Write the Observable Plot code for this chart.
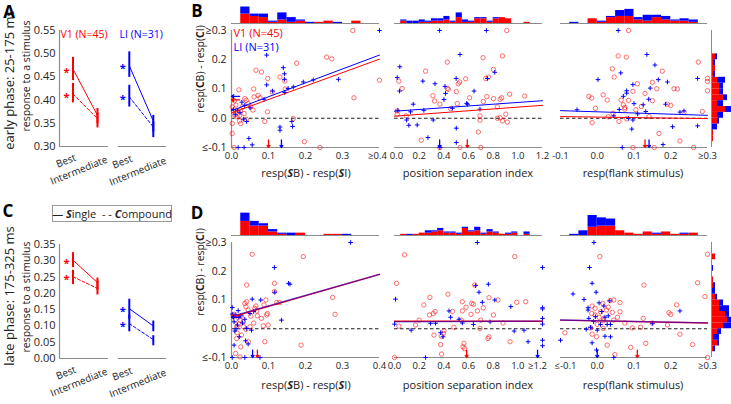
<!DOCTYPE html>
<html><head><meta charset="utf-8">
<script src="https://cdn.jsdelivr.net/npm/d3@7"></script>
<script src="https://cdn.jsdelivr.net/npm/@observablehq/plot@0.6"></script>
<style>
body{margin:0;background:#fff;}
#fig{position:relative;width:731px;height:404px;overflow:hidden;font-family:"Open Sans",sans-serif;background:#fff;color:#222}
.lab{position:absolute;white-space:nowrap;transform-origin:center;line-height:1}
#fig svg{position:absolute;overflow:visible}
</style></head><body><div id="fig"></div>
<script>
// ---------------- DATA ----------------
const conditions = ["Best", "Intermediate"];
const areas = ["V1", "LI"];
const areaN = [45, 31];

// Panel A, early phase (25-175 ms): [Best, Intermediate]
const earlyV1Single = [0.467, 0.367], earlyV1SingleLo = [0.442, 0.349], earlyV1SingleHi = [0.492, 0.382];
const earlyV1Comp   = [0.413, 0.360], earlyV1CompLo   = [0.394, 0.340], earlyV1CompHi   = [0.436, 0.372];
const earlyLISingle = [0.474, 0.355], earlyLISingleLo = [0.449, 0.331], earlyLISingleHi = [0.504, 0.367];
const earlyLIComp   = [0.407, 0.342], earlyLICompLo   = [0.385, 0.319], earlyLICompHi   = [0.432, 0.353];
// Panel C, late phase (175-325 ms)
const lateV1Single = [0.302, 0.233], lateV1SingleLo = [0.279, 0.209], lateV1SingleHi = [0.325, 0.247];
const lateV1Comp   = [0.251, 0.215], lateV1CompLo   = [0.227, 0.195], lateV1CompHi   = [0.271, 0.238];
const lateLISingle = [0.153, 0.100], lateLISingleLo = [0.121, 0.082], lateLISingleHi = [0.182, 0.115];
const lateLIComp   = [0.107, 0.058], lateLICompLo   = [0.082, 0.039], lateLICompHi   = [0.133, 0.070];

const yTicksA = [0.30, 0.35, 0.40, 0.45, 0.50, 0.55];
const yTicksC = [0.00, 0.05, 0.10, 0.15, 0.20, 0.25, 0.30, 0.35];
const yTicksScatter = [-0.1, 0, 0.1, 0.2, 0.3];

// Panel B scatter points [x, y]; y = resp(CB) - resp(CI)
const b1V1 = [[0.328,0.3],[0.4,0.13],[0.331,0.07],[0.257,0.209],[0.271,0.203],[0.176,0.188],[0.066,0.164],[0.081,0.158],[0.131,0.141],[0.144,0.127],[0.098,0.136],[0.02,0.097],[0.036,0.067],[0.04,0.061],[0.061,0.073],[0.072,0.078],[0.077,0.07],[0.002,0.039],[0.005,0.025],[0.014,0.025],[0.025,0.028],[0.009,0.01],[0.022,0.01],[0.034,0.016],[0.052,0.039],[0.097,0.022],[0.09,-0.011],[0.167,-0.001],[0.002,-0.018],[0.022,-0.009],[0.025,-0.018],[0.002,-0.052],[0.197,-0.08],[0.239,-0.1],[0.007,-0.1],[0.012,0.045],[0.03,0.04],[0.045,0.05],[0.058,0.028],[0.015,0.005],[0.04,-0.004],[0.11,0.09],[0.145,0.1],[0.008,0.06],[0.06,0.1]];
const b1LI = [[0.4,0.3],[0.095,0.216],[0.14,0.173],[0.143,0.152],[0.095,0.114],[0.111,0.093],[0.143,0.133],[0.153,0.102],[0.194,0.124],[0.221,0.131],[0.289,0.133],[0.144,0.088],[0.167,0.107],[0.088,0.065],[0.036,0.044],[0.05,0.036],[0.016,0.027],[0.023,0.019],[0.032,-0.003],[0.041,-0.011],[0.131,-0.03],[0.131,-0.041],[0.163,-0.011],[0.165,-0.028],[0.047,-0.069],[0.056,-0.091],[0.018,-0.1],[0.034,-0.1],[0.005,0.03],[0.01,0.012],[0.028,0.055]];
const b2V1 = [[0.91,0.3],[0.875,0.213],[0.428,0.192],[0.718,0.207],[0.252,0.161],[0.035,0.127],[0.062,0.102],[0.802,0.167],[0.761,0.141],[0.739,0.136],[0.577,0.135],[0.528,0.124],[0.517,0.118],[0.428,0.102],[0.436,0.099],[0.501,0.091],[0.311,0.077],[0.325,0.059],[0.368,0.048],[0.509,0.05],[0.609,0.07],[0.748,0.074],[0.72,0.057],[0.802,0.067],[0.856,0.065],[0.869,0.07],[0.934,0.082],[1.056,0.076],[0.834,0.039],[0.455,0.033],[0.902,0.014],[0.834,0.0],[0.856,0.002],[0.875,-0.009],[0.915,-0.013],[0.693,0.008],[0.693,-0.007],[0.022,0.025],[0.022,0.014],[0.095,0.008],[0.217,-0.075],[0.68,-0.047],[0.368,-0.1],[0.7,-0.1],[0.531,-0.1]];
const b2LI = [[0.366,0.3],[0.745,0.3],[0.531,0.218],[0.043,0.176],[0.022,0.139],[0.041,0.093],[0.23,0.127],[0.328,0.118],[0.409,0.109],[0.5,0.136],[0.753,0.136],[0.813,0.157],[0.645,0.093],[0.414,0.085],[0.401,0.064],[0.585,0.051],[0.593,0.048],[0.469,0.034],[0.152,0.048],[0.13,0.022],[0.027,0.027],[0.238,0.027],[0.693,0.031],[0.098,-0.006],[0.116,-0.024],[0.184,-0.023],[0.314,-0.006],[0.501,-0.034],[0.271,-0.066],[0.501,-0.083],[0.368,-0.1]];
const b3V1 = [[0.085,0.3],[0.057,0.213],[0.079,0.209],[0.275,0.192],[0.041,0.169],[0.177,0.161],[0.046,0.141],[0.109,0.118],[0.15,0.123],[0.097,0.092],[0.162,0.101],[0.209,0.101],[0.218,0.1],[0.3,0.136],[0.3,0.126],[0.3,0.094],[0.016,0.08],[-0.023,0.075],[-0.015,0.069],[0.027,0.062],[0.065,0.062],[0.085,0.061],[0.15,0.06],[0.071,0.046],[0.075,0.037],[0.075,0.031],[-0.005,0.034],[0.105,0.029],[0.191,0.048],[0.2,0.044],[0.043,0.017],[0.286,0.023],[0.059,-0.011],[0.08,-0.002],[-0.014,-0.015],[0.141,0.006],[0.168,-0.052],[0.225,-0.078],[0.097,-0.1],[0.155,-0.1],[0.262,-0.1],[0.13,0.085],[0.12,0.04],[0.236,0.02],[0.03,0.005]];
const b3LI = [[0.057,0.3],[0.135,0.218],[0.064,0.155],[0.002,0.132],[0.157,0.182],[0.166,0.132],[0.191,0.124],[0.273,0.136],[0.097,0.115],[0.144,0.103],[0.08,0.094],[0.08,0.086],[0.071,0.075],[0.125,0.046],[0.186,0.048],[0.132,0.023],[-0.055,0.029],[0.236,0.025],[0.225,0.021],[0.097,-0.006],[0.045,0.008],[0.094,-0.037],[0.205,-0.029],[0.273,-0.026],[0.179,-0.09],[0.068,-0.1],[0.1,0.05],[0.06,0.03],[0.11,0.015],[0.14,0.065],[0.085,0.0]];
// Panel D scatter points [x, y]
const d1V1 = [[0.056,0.259],[0.194,0.251],[0.116,0.158],[0.041,0.152],[0.116,0.129],[0.093,0.1],[0.129,0.091],[0.122,0.091],[0.066,0.079],[0.063,0.071],[0.068,0.062],[0.036,0.088],[0.041,0.094],[0.039,0.077],[0.088,0.083],[0.097,0.053],[0.095,0.048],[0.081,0.036],[0.052,0.044],[0.28,0.05],[0.273,0.109],[0.027,0.044],[0.023,0.03],[0.032,0.024],[0.086,0.01],[0.099,0.013],[0.014,0.007],[0.02,0.016],[0.05,0.007],[0.032,0.007],[0.039,-0.002],[0.015,-0.014],[0.027,-0.022],[0.014,-0.034],[0.045,-0.045],[0.09,-0.045],[0.025,-0.063],[0.188,-0.057],[0.011,-0.086],[0.023,-0.098],[0.008,0.05],[0.06,0.02],[0.07,0.045],[0.01,0.03],[0.045,0.065]];
const d1LI = [[0.322,0.3],[0.116,0.213],[0.154,0.158],[0.158,0.155],[0.117,0.127],[0.056,0.103],[0.079,0.1],[0.002,0.074],[0.018,0.063],[0.05,0.053],[0.135,0.03],[0.01,0.048],[0.002,0.051],[0.02,0.04],[0.007,0.024],[0.036,0.033],[0.016,0.013],[0.041,0.001],[0.054,-0.005],[0.009,-0.008],[0.021,-0.028],[0.038,-0.042],[0.007,-0.057],[0.045,-0.053],[0.002,-0.1],[0.036,-0.1],[0.077,-0.1],[0.025,0.045],[0.03,0.02],[0.012,0.0],[0.06,0.06]];
const d2V1 = [[0.081,0.257],[0.975,0.251],[0.016,0.158],[0.433,0.12],[0.287,0.109],[0.238,0.083],[0.284,0.048],[0.314,0.053],[0.55,0.094],[0.626,0.088],[0.64,0.085],[0.55,0.062],[0.542,0.03],[0.672,0.062],[0.72,0.073],[0.65,0.152],[0.766,0.108],[0.839,0.1],[0.802,0.048],[0.699,0.03],[0.991,0.092],[1.064,0.094],[0.693,0.001],[0.482,0.005],[0.035,0.009],[0.17,0.013],[0.401,-0.007],[0.395,-0.016],[0.32,-0.022],[0.38,-0.026],[0.766,-0.028],[0.758,-0.034],[0.374,-0.055],[0.937,-0.045],[0.563,-0.051],[0.555,-0.063],[0.568,-0.069],[0.382,-0.088],[0.0,-0.1],[0.33,0.06],[0.62,0.05],[0.58,0.075],[0.47,0.06],[0.2,0.03],[0.88,0.02]];
const d2LI = [[0.672,0.3],[1.2,0.213],[0.658,0.15],[0.761,0.155],[0.008,0.103],[0.685,0.127],[0.712,0.092],[0.813,0.1],[0.943,0.077],[1.2,0.073],[1.2,0.069],[0.442,0.062],[0.455,0.04],[0.523,0.033],[0.333,0.019],[0.292,0.019],[0.64,0.015],[1.2,0.036],[1.2,0.016],[0.0,0.016],[0.135,-0.005],[0.374,-0.014],[0.393,-0.028],[0.97,-0.008],[1.05,-0.005],[1.083,-0.045],[1.2,-0.04],[1.2,-0.059],[0.775,0.024],[0.252,-0.1],[0.55,0.02]];
const d3V1 = [[0.3,0.259],[0.007,0.251],[0.127,0.152],[0.273,0.16],[0.293,0.112],[0.035,0.098],[0.045,0.1],[0.062,0.091],[0.015,0.088],[-0.014,0.079],[-0.006,0.071],[-0.015,0.053],[-0.006,0.048],[0.009,0.059],[0.041,0.057],[0.062,0.059],[0.018,0.036],[0.016,0.028],[0.045,0.03],[0.125,0.036],[0.195,0.056],[0.2,0.05],[0.216,0.083],[0.095,0.003],[0.118,0.005],[-0.018,0.003],[0.016,0.001],[0.191,0.013],[0.225,-0.019],[-0.088,-0.014],[-0.014,-0.019],[-0.002,-0.028],[0.027,-0.057],[0.091,-0.065],[0.132,-0.051],[0.259,-0.055],[0.048,-0.09],[0.3,-0.1],[0.03,0.075],[0.005,0.04],[0.055,0.04],[0.075,0.02],[0.025,0.065],[0.15,0.02],[0.0,0.015]];
const d3LI = [[-0.009,0.3],[-0.021,0.213],[-0.014,0.158],[-0.003,0.127],[-0.066,0.121],[-0.036,0.102],[-0.025,0.073],[-0.025,0.065],[0.018,0.079],[0.034,0.097],[-0.023,0.036],[-0.005,0.042],[0.021,0.04],[0.009,0.015],[0.027,0.015],[0.036,0.015],[0.15,0.019],[0.225,0.062],[0.0,-0.005],[-0.03,-0.002],[0.021,-0.026],[0.036,-0.028],[-0.014,-0.049],[-0.1,-0.04],[-0.002,-0.074],[0.045,-0.1],[0.005,0.09],[-0.01,0.025],[0.012,0.06],[-0.018,0.005],[0.03,0.045]];

// regression fits [intercept, slope] for [V1, LI]
const fitB1 = [[0.018, 0.46], [0.026, 0.475]];
const fitB2 = [[0.007, 0.031], [0.024, 0.030]];
const fitB3 = [[0.004, -0.0175], [0.022, -0.040]];
const fitD1 = [[0.041, 0.370], [0.043, 0.365]];
const fitD2 = [[0.026, 0.000], [0.024, 0.002]];
const fitD3 = [[0.0275, -0.025], [0.028, -0.025]];
// medians (arrows) [V1, LI]
const medXB1 = [0.100, 0.135], medXB2 = [0.59, 0.366], medXB3 = [0.130, 0.141];
const medXD1 = [0.070, 0.057], medXD2 = [0.585, 1.16], medXD3 = [0.109, 0.000];
const medYB = [0.063, 0.075], medYD = [0.045, 0.040];

// ---------------- DRAWING ----------------
const RED = "#ff0000", BLUE = "#0000ff", AXIS = "#8c8c8c", TXT = "#222";
const FONT = '"Open Sans", sans-serif';
const colorScale = {domain: areas, range: [RED, BLUE]};
const fig = document.getElementById("fig");
function place(svg, left, top) { svg.style.left = left + "px"; svg.style.top = top + "px"; fig.appendChild(svg); }
function label(html, cx, cy, {size = 11, rot = 0, color = TXT, weight = "normal"} = {}) {
  const d = document.createElement("div");
  d.className = "lab"; d.innerHTML = html;
  Object.assign(d.style, {fontSize: size + "px", color, fontWeight: weight, left: cx + "px", top: cy + "px",
    transform: `translate(-50%,-50%) rotate(${rot}deg)`});
  fig.appendChild(d);
}
const baseStyle = {fontFamily: FONT, fontSize: "10px", color: TXT, background: "transparent", overflow: "visible"};

// Panels A & C
function groupPanel(o) {
  const ML = o.showY ? 59 : 4, MR = 2, MT = 10, MB = 44;
  const xDom = o.xDomain;
  const rows = (means, lo, hi, stim) => conditions.map((c, i) => ({i, cond: c, stim, m: means[i], lo: lo[i], hi: hi[i]}));
  const s = rows(o.single, o.singleLo, o.singleHi, "Single");
  const c = rows(o.comp, o.compLo, o.compHi, "Compound");
  const best = [...s, ...c].filter(d => d.cond === "Best");
  const ticks = conditions.map((c, i) => ({i, c}));
  const tickText = (i, dx, dy) => Plot.text(ticks.filter(d => d.i === i), {x: "i", text: "c", frameAnchor: "bottom",
    rotate: -22, textAnchor: "end", lineAnchor: "top", dx, dy, fontSize: 10, fill: TXT});
  const extra = o.showY ? 0 : 1;
  const svg = Plot.plot({
    width: ML + o.frameW + MR, height: MT + o.frameH + MB,
    marginLeft: ML, marginRight: MR, marginTop: MT, marginBottom: MB,
    style: baseStyle,
    x: {domain: xDom, axis: null}, y: {domain: o.yDomain, axis: null},
    marks: [
      Plot.ruleY([o.yDomain[0]], {stroke: AXIS, strokeWidth: 1.2}),
      o.showY ? Plot.ruleX([xDom[0]], {stroke: AXIS, strokeWidth: 1.2}) : null,
      o.showY ? Plot.axisY({ticks: o.yTicks, tickFormat: d3.format(".2f"), tickSize: 0, tickPadding: 4, fontSize: 11, label: null}) : null,
      tickText(0, 1, 7 + extra),
      tickText(1, o.showY ? 8 : 11, 9 + extra),
      Plot.line(s, {x: "i", y: "m", stroke: o.color, strokeWidth: 1}),
      Plot.line(c, {x: "i", y: "m", stroke: o.color, strokeWidth: 1, strokeDasharray: "3,2"}),
      Plot.ruleX([...s, ...c], {x: "i", y1: "lo", y2: "hi", stroke: o.color, strokeWidth: 2}),
      Plot.text(best, {x: "i", y: "m", text: () => "*", dx: -6.5, dy: 3, fill: o.color, fontSize: 11, fontWeight: "bold"}),
      o.name ? Plot.text([o.name], {frameAnchor: "top-left", dx: 1, dy: 0, fill: o.color, fontSize: 10.5}) : null
    ]
  });
  place(svg, o.frameLeft - ML, o.frameTop - MT);
}

const aL = {frameLeft: 59, frameW: 49}, aR = {frameLeft: 118, frameW: 48};
groupPanel({...aL, showY: true, xDomain: [-0.55, 1.45], frameTop: 30, frameH: 116, yDomain: [0.30, 0.55], yTicks: yTicksA, color: RED,
  single: earlyV1Single, singleLo: earlyV1SingleLo, singleHi: earlyV1SingleHi, comp: earlyV1Comp, compLo: earlyV1CompLo, compHi: earlyV1CompHi,
  name: `${areas[0]} (N=${areaN[0]})`});
groupPanel({...aR, showY: false, xDomain: [-0.45, 1.55], frameTop: 30, frameH: 116, yDomain: [0.30, 0.55], yTicks: yTicksA, color: BLUE,
  single: earlyLISingle, singleLo: earlyLISingleLo, singleHi: earlyLISingleHi, comp: earlyLIComp, compLo: earlyLICompLo, compHi: earlyLICompHi,
  name: `${areas[1]} (N=${areaN[1]})`});
groupPanel({...aL, showY: true, xDomain: [-0.55, 1.45], frameTop: 244, frameH: 114, yDomain: [0, 0.35], yTicks: yTicksC, color: RED,
  single: lateV1Single, singleLo: lateV1SingleLo, singleHi: lateV1SingleHi, comp: lateV1Comp, compLo: lateV1CompLo, compHi: lateV1CompHi});
groupPanel({...aR, showY: false, xDomain: [-0.45, 1.55], frameTop: 244, frameH: 114, yDomain: [0, 0.35], yTicks: yTicksC, color: BLUE,
  single: lateLISingle, singleLo: lateLISingleLo, singleHi: lateLISingleHi, comp: lateLIComp, compLo: lateLICompLo, compHi: lateLICompHi});

// Scatter panels
const yDomS = [-0.1, 0.3];
const yFmt = d => d === 0.3 ? "≥0.3" : d === -0.1 ? "≤-0.1" : d.toFixed(1);
function scatter(o) {
  const ML = 34, MR = 4, MT = 4, MB = 26;
  const [x0, x1] = o.xDomain, [y0, y1] = yDomS;
  const v1 = o.v1.map(([x, y]) => ({x, y})), li = o.li.map(([x, y]) => ({x, y}));
  const lines = o.fits.map((f, i) => Plot.line(o.xDomain, {x: d => d, y: d => f[0] + f[1] * d,
    stroke: i === 0 ? RED : BLUE, strokeWidth: o.overlap ? 1.4 : 1, strokeOpacity: (o.overlap && i === 1) ? 0.55 : 1}));
  const medX = areas.map((a, i) => ({area: a, v: o.medX[i]}));
  const aY = 0.065 * (y1 - y0), aX = 0.055 * (x1 - x0);
  const shift = o.tickShift || {};
  const axisOpts = {tickFormat: o.xFmt, tickSize: 0, tickPadding: 5, fontSize: 9.5, label: null};
  const marks = [
    Plot.ruleY([0], {stroke: "#000", strokeWidth: 0.9, strokeDasharray: "3.5,2.5"}),
    Plot.ruleY([y0], {stroke: AXIS, strokeWidth: 1.2}),
    o.showY ? Plot.ruleX([x0], {stroke: AXIS, strokeWidth: 1.2}) : null,
    Plot.axisX({...axisOpts, ticks: o.xTicks.filter(t => !(t in shift))}),
    ...o.xTicks.filter(t => t in shift).map(t => Plot.axisX({...axisOpts, ticks: [t], dx: shift[t]})),
    o.showY ? Plot.axisY({ticks: yTicksScatter, tickFormat: yFmt, tickSize: 0, tickPadding: 5, fontSize: 10.5, label: null}) : null,
    Plot.dot(v1, {x: "x", y: "y", r: 2.2, stroke: RED, strokeWidth: 0.7, fill: "none", strokeOpacity: 0.8}),
    Plot.dot(li, {x: "x", y: "y", r: 1.6, symbol: "plus", stroke: BLUE, strokeWidth: 1, fill: "none"}),
    ...lines,
    Plot.arrow(medX, {x1: "v", x2: "v", y1: () => y0 + aY, y2: () => y0, stroke: "area", strokeWidth: 1.3, headLength: 4, headAngle: 70})
  ];
  if (o.medY) {
    const medY = areas.map((a, i) => ({area: a, v: o.medY[i]}));
    marks.push(Plot.arrow(medY, {y1: "v", y2: "v", x1: () => x0 + aX, x2: () => x0, stroke: "area", strokeWidth: 1.3, headLength: 4, headAngle: 70}));
  }
  if (o.names) {
    marks.push(Plot.text([`${areas[0]} (N=${areaN[0]})`], {frameAnchor: "top-left", dx: 2, dy: -1, fill: RED, fontSize: 11}));
    marks.push(Plot.text([`${areas[1]} (N=${areaN[1]})`], {frameAnchor: "top-left", dx: 2, dy: 13, fill: BLUE, fontSize: 11}));
  }
  const svg = Plot.plot({
    width: ML + o.w + MR, height: MT + o.h + MB, marginLeft: ML, marginRight: MR, marginTop: MT, marginBottom: MB,
    style: baseStyle, color: colorScale,
    x: {domain: o.xDomain}, y: {domain: yDomS, axis: o.showY ? undefined : null},
    marks
  });
  place(svg, o.left - ML, o.top - MT);
}
function topHist(o) {
  const rows = [...o.v1.map(d => ({area: "V1", v: d[0]})), ...o.li.map(d => ({area: "LI", v: d[0]}))];
  const n = Math.round((o.xDomain[1] - o.xDomain[0]) / o.step);
  const thresholds = d3.range(1, n).map(i => o.xDomain[0] + i * o.step);
  const svg = Plot.plot({
    width: o.w, height: o.h, margin: 0, style: baseStyle, color: colorScale,
    x: {domain: o.xDomain, axis: null}, y: {domain: [0, 17], axis: null},
    marks: [
      Plot.rectY(rows, Plot.binX({y: "count"}, {x: "v", fill: "area", thresholds, domain: o.xDomain, inset: 0})),
      Plot.ruleY([0], {stroke: AXIS, strokeWidth: 1})
    ]
  });
  place(svg, o.left, o.top);
}
function rightHist(o) {
  const rows = [...o.v1.map(d => ({area: "V1", v: d[1]})), ...o.li.map(d => ({area: "LI", v: d[1]}))];
  const step = 0.02, n = Math.round((yDomS[1] - yDomS[0]) / step);
  const thresholds = d3.range(1, n).map(i => yDomS[0] + i * step);
  const svg = Plot.plot({
    width: o.w, height: o.h, margin: 0, style: baseStyle, color: colorScale,
    y: {domain: yDomS, axis: null}, x: {domain: [0, 10], axis: null},
    marks: [
      Plot.rectX(rows, Plot.binY({x: "count"}, {y: "v", fill: "area", thresholds, domain: yDomS, inset: 0})),
      Plot.ruleX([0], {stroke: AXIS, strokeWidth: 1})
    ]
  });
  place(svg, o.left, o.top);
}

const f1 = d => d.toFixed(1);
const col1 = {left: 231, w: 148}, col2 = {left: 394, w: 148}, col3 = {left: 560, w: 147};
const rowB = {top: 30, h: 117}, rowD = {top: 242, h: 115};

scatter({...col1, ...rowB, xDomain: [0, 0.4], xTicks: [0, 0.1, 0.2, 0.3, 0.4], xFmt: d => d === 0.4 ? "≥0.4" : f1(d), showY: true, v1: b1V1, li: b1LI, fits: fitB1, medX: medXB1, medY: medYB, names: true, tickShift: {0.4: -2}});
scatter({...col2, ...rowB, xDomain: [0, 1.2], xTicks: [0, 0.2, 0.4, 0.6, 0.8, 1.0, 1.2], xFmt: f1, showY: false, v1: b2V1, li: b2LI, fits: fitB2, medX: medXB2, tickShift: {0: 2}});
scatter({...col3, ...rowB, xDomain: [-0.1, 0.3], xTicks: [-0.1, 0, 0.1, 0.2, 0.3], xFmt: d => d === 0.3 ? "≥0.3" : f1(d), showY: false, v1: b3V1, li: b3LI, fits: fitB3, medX: medXB3});
scatter({...col1, ...rowD, xDomain: [0, 0.4], xTicks: [0, 0.1, 0.2, 0.3, 0.4], xFmt: f1, showY: true, v1: d1V1, li: d1LI, fits: fitD1, medX: medXD1, medY: medYD, overlap: true});
scatter({...col2, ...rowD, xDomain: [0, 1.2], xTicks: [0, 0.2, 0.4, 0.6, 0.8, 1.0, 1.2], xFmt: d => d === 1.2 ? "≥1.2" : f1(d), showY: false, v1: d2V1, li: d2LI, fits: fitD2, medX: medXD2, overlap: true, tickShift: {1.2: -5}});
scatter({...col3, ...rowD, xDomain: [-0.1, 0.3], xTicks: [-0.1, 0, 0.1, 0.2, 0.3], xFmt: d => d === 0.3 ? "≥0.3" : d === -0.1 ? "≤-0.1" : f1(d), showY: false, v1: d3V1, li: d3LI, fits: fitD3, medX: medXD3, overlap: true, tickShift: {"-0.1": 5}});

topHist({...col1, top: 3, h: 20, xDomain: [0, 0.4], step: 0.025, v1: b1V1, li: b1LI});
topHist({...col2, top: 3, h: 20, xDomain: [0, 1.2], step: 0.05, v1: b2V1, li: b2LI});
topHist({...col3, top: 3, h: 20, xDomain: [-0.1, 0.3], step: 0.025, v1: b3V1, li: b3LI});
topHist({...col1, top: 215, h: 20, xDomain: [0, 0.4], step: 0.025, v1: d1V1, li: d1LI});
topHist({...col2, top: 215, h: 20, xDomain: [0, 1.2], step: 0.05, v1: d2V1, li: d2LI});
topHist({...col3, top: 215, h: 20, xDomain: [-0.1, 0.3], step: 0.025, v1: d3V1, li: d3LI});
rightHist({left: 711, top: 30, w: 20, h: 117, v1: b3V1, li: b3LI});
rightHist({left: 711, top: 242, w: 20, h: 115, v1: d3V1, li: d3LI});

// ---------------- TEXT ----------------
label("A", 9, 11, {size: 17, weight: "bold", color: "#000"});
label("B", 197, 10, {size: 17, weight: "bold", color: "#000"});
label("C", 8, 210, {size: 17, weight: "bold", color: "#000"});
label("D", 197, 212, {size: 17, weight: "bold", color: "#000"});
label("early phase: 25-175 ms", 9, 80, {size: 13, rot: -90});
label("response to a stimulus", 26, 76, {size: 10.5, rot: -90});
label("late phase: 175-325 ms", 9, 296, {size: 13, rot: -90});
label("response to a stimulus", 26, 297, {size: 10.5, rot: -90});
const yTitle = "resp(<b>C</b>B) - resp(<b>C</b>I)";
label(yTitle, 199.5, 69, {size: 10.5, rot: -90});
label(yTitle, 199.5, 272, {size: 10.5, rot: -90});
const xTitles = ["resp(<b><i>S</i></b>B) - resp(<b><i>S</i></b>I)", "position separation index", "resp(flank stimulus)"];
[306, 468, 633].forEach((cx, i) => { label(xTitles[i], cx, 172, {size: 11}); label(xTitles[i], cx, 384, {size: 11}); });
// legend
const leg = document.createElement("div");
leg.className = "lab";
leg.innerHTML = "<span>—&nbsp;<b><i>S</i></b>ingle&nbsp;&nbsp;-&nbsp;-&nbsp;<b><i>C</i></b>ompound</span>";
Object.assign(leg.style, {left: "52px", top: "205px", width: "118px", height: "15px", border: "1px solid #999", fontSize: "11px",
  display: "flex", alignItems: "center", justifyContent: "center", color: TXT});
fig.appendChild(leg);
</script></body></html>
